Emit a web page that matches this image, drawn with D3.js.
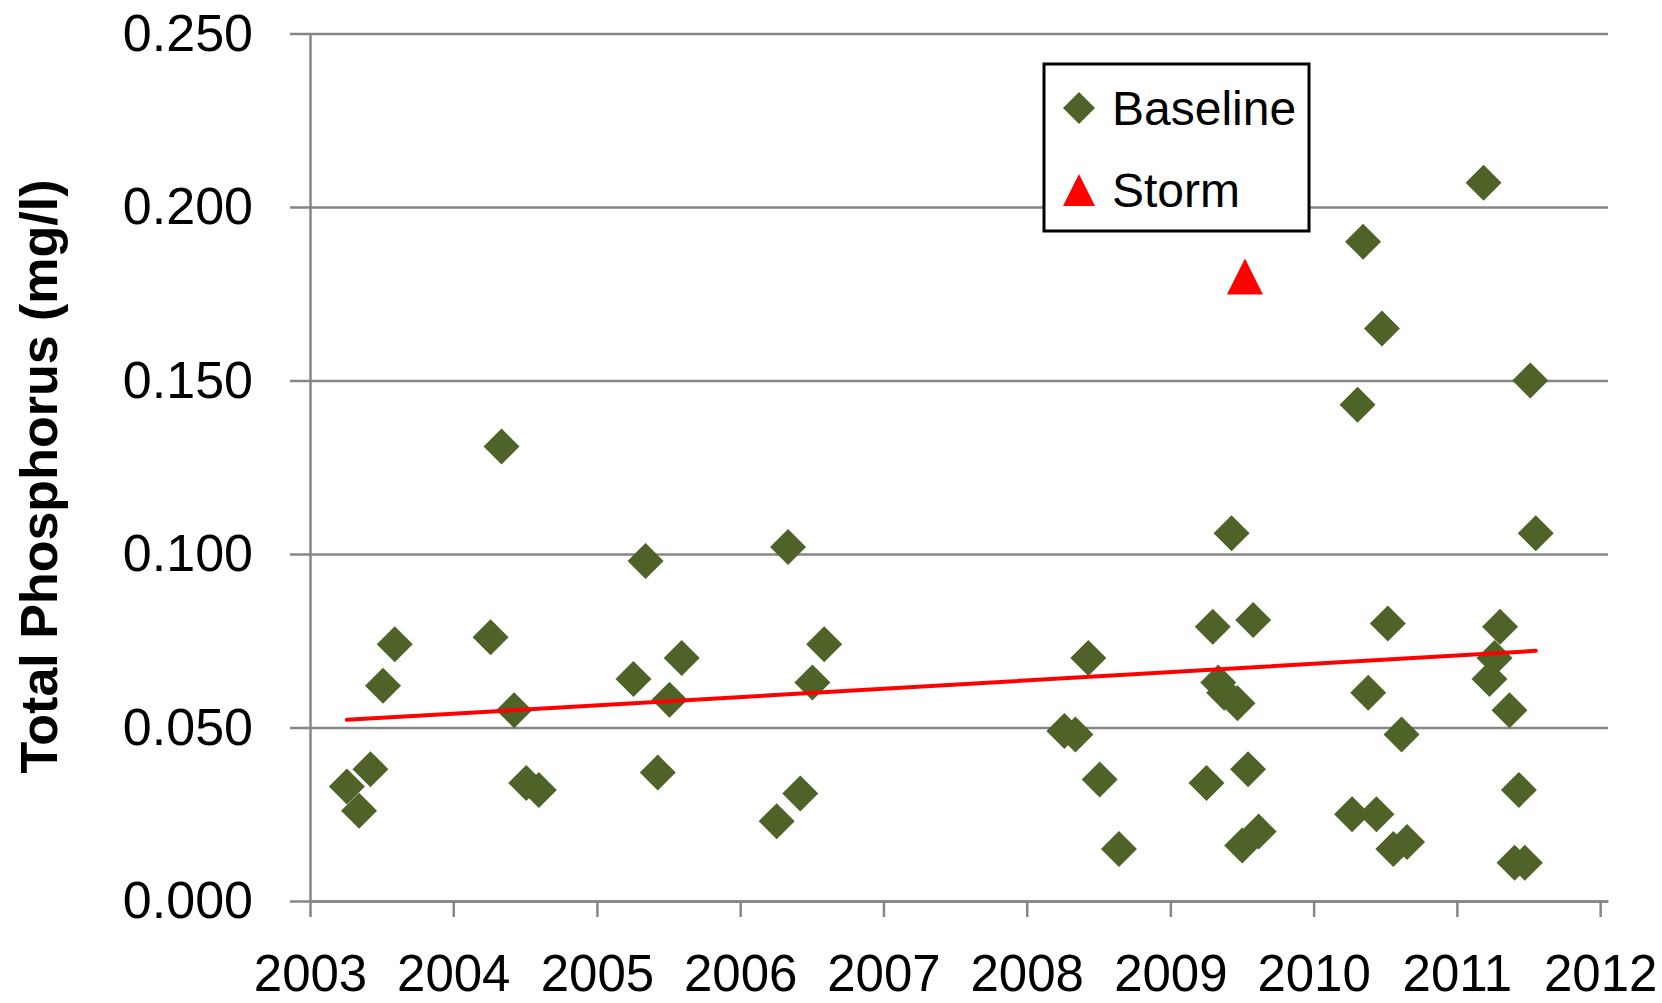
<!DOCTYPE html>
<html>
<head>
<meta charset="utf-8">
<script src="https://cdn.jsdelivr.net/npm/d3@7"></script>
<style>
  body { margin: 0; background: #fff; }
  svg { display: block; }
  text { font-family: 'Liberation Sans', Arial, sans-serif; fill: #000; }
</style>
</head>
<body>
<div id="chart"></div>
<script>
// baseline samples: sample date, total phosphorus (mg/l)
const baselineDates = [
  '2003-04-05', '2003-05-06', '2003-06-04', '2003-07-06', '2003-08-05',
  '2004-04-05', '2004-05-03', '2004-06-04', '2004-07-05', '2004-08-06',
  '2005-04-04', '2005-05-05', '2005-06-05', '2005-07-05', '2005-08-05',
  '2006-04-04', '2006-05-03', '2006-06-03', '2006-07-04', '2006-08-03',
  '2008-04-06', '2008-05-04', '2008-06-06', '2008-07-05', '2008-08-23',
  '2009-04-03', '2009-04-19', '2009-05-03', '2009-05-18', '2009-06-06',
  '2009-06-21', '2009-07-03', '2009-07-18', '2009-07-31', '2009-08-14',
  '2010-04-09', '2010-04-23', '2010-05-07', '2010-05-20', '2010-06-10',
  '2010-06-24', '2010-07-09', '2010-07-23', '2010-08-13', '2010-08-27',
  '2011-03-10', '2011-03-25', '2011-04-07', '2011-04-21', '2011-05-15',
  '2011-05-28', '2011-06-08', '2011-06-23', '2011-07-07', '2011-07-21'
];
const baselineValues = [
  0.033, 0.026, 0.038, 0.062, 0.074,
  0.076, 0.131, 0.055, 0.034, 0.032,
  0.064, 0.098, 0.037, 0.058, 0.070,
  0.023, 0.102, 0.031, 0.063, 0.074,
  0.049, 0.048, 0.070, 0.035, 0.015,
  0.034, 0.079, 0.063, 0.060, 0.106,
  0.057, 0.016, 0.038, 0.081, 0.020,
  0.025, 0.143, 0.190, 0.060, 0.025,
  0.165, 0.080, 0.015, 0.048, 0.017,
  0.207, 0.064, 0.070, 0.079, 0.055,
  0.011, 0.032, 0.011, 0.150, 0.106
];

// storm sample
const stormDates = ['2009-07-10'];
const stormValues = [0.180];

// linear trend of baseline, values at first and last baseline date
const trendValues = [0.0522, 0.0721];

const yTicks = [0, 0.05, 0.1, 0.15, 0.2, 0.25];
const legendLabels = ['Baseline', 'Storm'];

const parse = d3.timeParse('%Y-%m-%d');
const baseline = baselineDates.map((d, i) => ({date: parse(d), value: baselineValues[i]}));
const storm = stormDates.map((d, i) => ({date: parse(d), value: stormValues[i]}));
const trend = [
  {date: baseline[0].date, value: trendValues[0]},
  {date: baseline[baseline.length - 1].date, value: trendValues[1]}
];

const width = 1662;
const height = 1003;
const plotLeft = 310, plotRight = 1608, plotTop = 33.5, plotBottom = 901;
const green = '#4f6228';
const grey = '#868686';

// custom marker shapes (Excel style diamond / triangle)
const diamond = {
  draw(ctx, size) {
    const r = Math.sqrt(size) / 2;
    ctx.moveTo(0, -r); ctx.lineTo(r, 0); ctx.lineTo(0, r); ctx.lineTo(-r, 0); ctx.closePath();
  }
};
const triangle = {
  draw(ctx, size) {
    const r = Math.sqrt(size) / 2;
    ctx.moveTo(0, -r); ctx.lineTo(r, r); ctx.lineTo(-r, r); ctx.closePath();
  }
};

const svg = d3.select('#chart').append('svg')
  .attr('width', width)
  .attr('height', height);

const x = d3.scaleTime()
  .domain([parse('2003-01-01'), parse('2012-01-21')])
  .range([plotLeft, plotRight]);
const y = d3.scaleLinear()
  .domain([0, 0.25])
  .range([plotBottom, plotTop]);

// horizontal gridlines (with small tick stubs left of the axis)
svg.append('g')
  .attr('class', 'grid')
  .attr('transform', `translate(${plotRight},0)`)
  .call(d3.axisLeft(y).tickValues(yTicks).tickSize(plotRight - 290).tickFormat(''))
  .call(g => g.select('.domain').remove())
  .call(g => g.selectAll('line').attr('stroke', grey).attr('stroke-width', 2.5));

// y axis
svg.append('g')
  .attr('transform', `translate(${plotLeft},0)`)
  .call(d3.axisLeft(y).tickValues(yTicks).tickSize(0).tickSizeOuter(0)
    .tickPadding(57).tickFormat(d3.format('.3f')))
  .call(g => g.select('.domain').attr('stroke', grey).attr('stroke-width', 2.5))
  .call(g => g.selectAll('text').attr('font-size', 52).style('font-family', "'Liberation Sans', Arial, sans-serif"));

// x axis
svg.append('g')
  .attr('transform', `translate(0,${plotBottom})`)
  .call(d3.axisBottom(x).ticks(d3.timeYear.every(1)).tickSize(16).tickSizeOuter(0)
    .tickPadding(38).tickFormat(d3.timeFormat('%Y')))
  .call(g => g.select('.domain').attr('stroke', grey).attr('stroke-width', 2.5))
  .call(g => g.selectAll('line').attr('stroke', grey).attr('stroke-width', 2.5))
  .call(g => g.selectAll('text').attr('font-size', 51).style('font-family', "'Liberation Sans', Arial, sans-serif"));

// axis title
svg.append('text')
  .attr('transform', `translate(57,${(180 + 773) / 2}) rotate(-90)`)
  .attr('text-anchor', 'middle')
  .attr('font-size', 52)
  .attr('font-weight', 'bold')
  .text('Total Phosphorus (mg/l)');

// points
svg.append('g')
  .selectAll('path')
  .data(baseline)
  .enter().append('path')
    .attr('transform', d => `translate(${x(d.date)},${y(d.value)})`)
    .attr('d', d3.symbol().type(diamond).size(36 * 36))
    .attr('fill', green);

svg.append('g')
  .selectAll('path')
  .data(storm)
  .enter().append('path')
    .attr('transform', d => `translate(${x(d.date)},${y(d.value)})`)
    .attr('d', d3.symbol().type(triangle).size(36 * 36))
    .attr('fill', '#ff0000');

// trend line
svg.append('path')
  .datum(trend)
  .attr('d', d3.line().x(d => x(d.date)).y(d => y(d.value)))
  .attr('fill', 'none')
  .attr('stroke', '#ff0000')
  .attr('stroke-width', 4)
  .attr('stroke-linecap', 'round');

// legend
const legend = svg.append('g').attr('transform', 'translate(1044,64)');
legend.append('rect')
  .attr('width', 265)
  .attr('height', 167)
  .attr('fill', '#fff')
  .attr('stroke', '#000')
  .attr('stroke-width', 3);

const item = legend.selectAll('.item')
  .data(legendLabels)
  .enter().append('g')
    .attr('class', 'item')
    .attr('transform', (d, i) => `translate(35,${44 + i * 82})`);
item.append('path')
  .attr('d', (d, i) => d3.symbol().type(i === 0 ? diamond : triangle).size(32 * 32)())
  .attr('fill', (d, i) => i === 0 ? green : '#ff0000');
item.append('text')
  .attr('x', 33)
  .attr('y', 17)
  .attr('font-size', 48)
  .text(d => d);
</script>
</body>
</html>
